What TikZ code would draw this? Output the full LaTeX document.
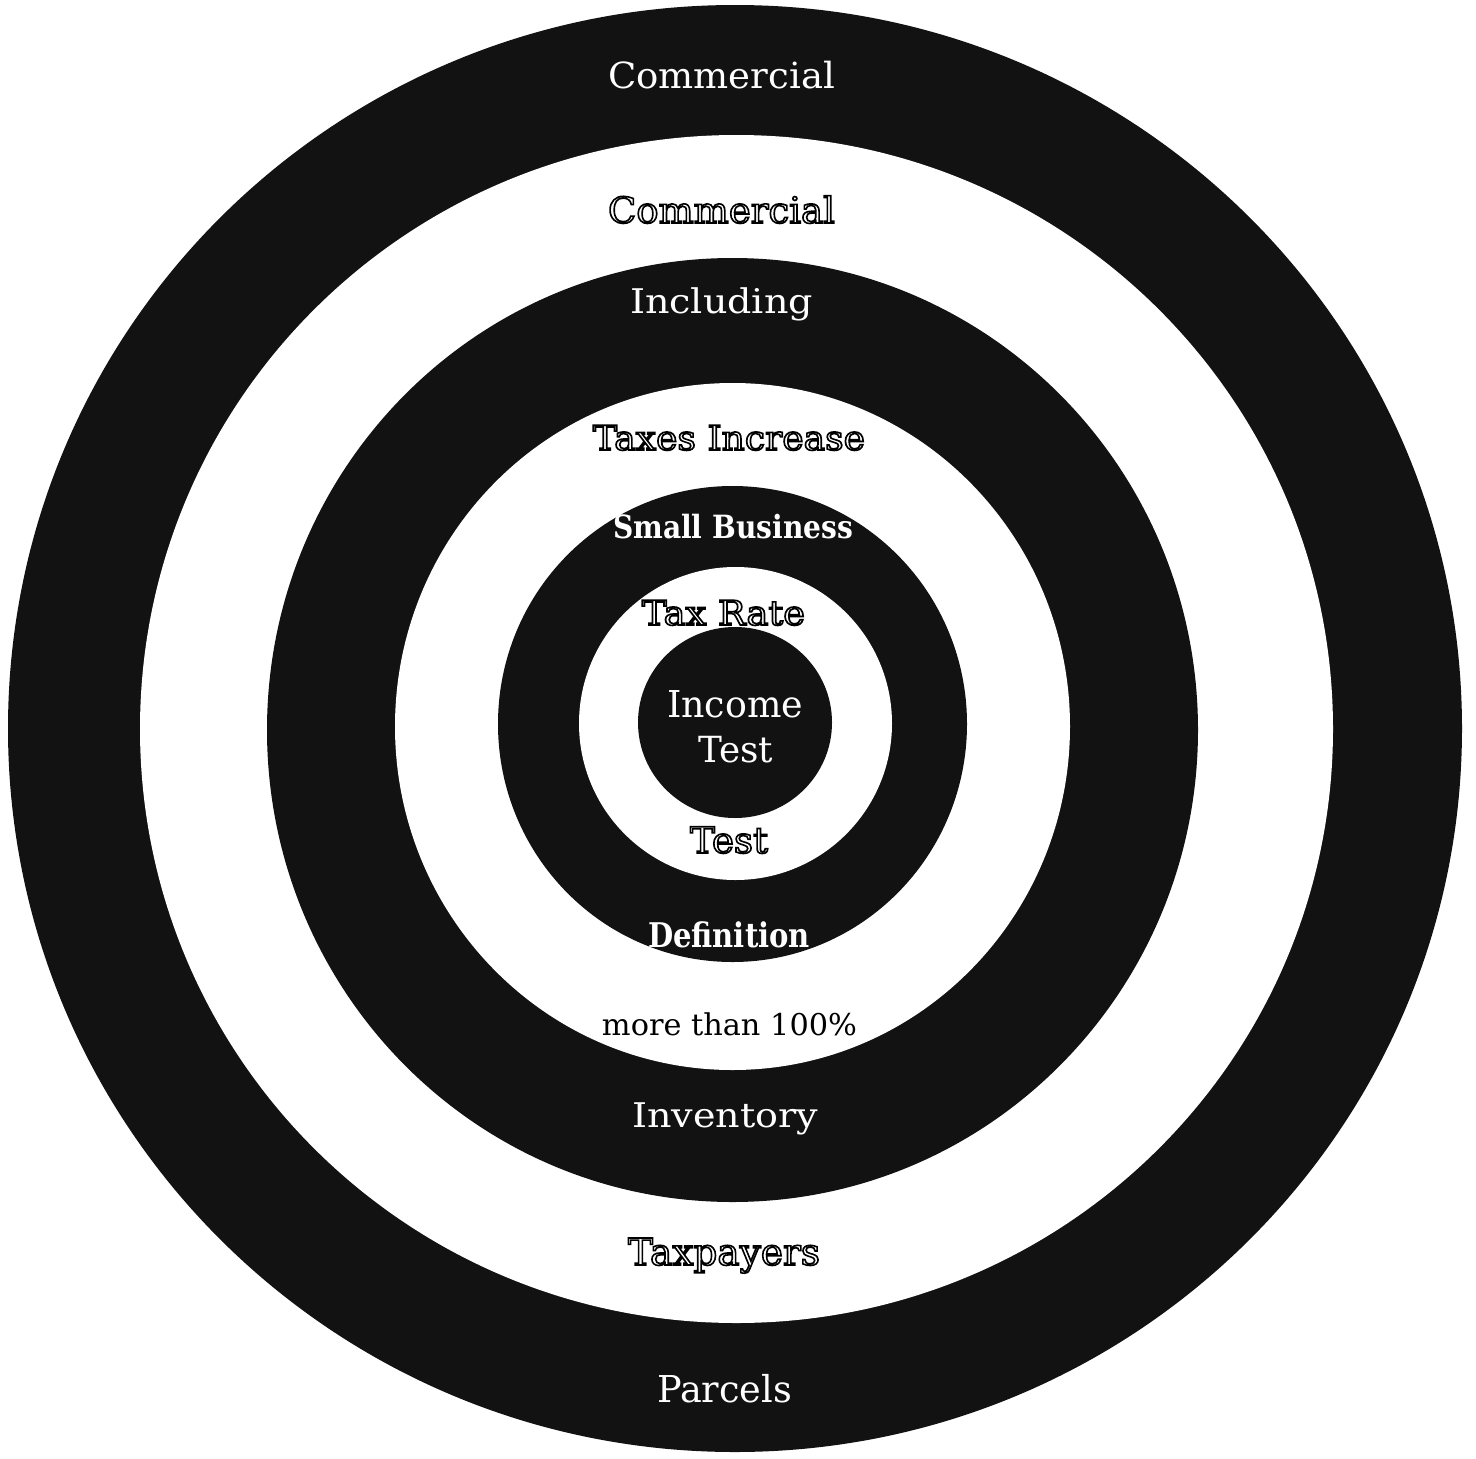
\documentclass[tikz,border=0pt]{standalone}
\usepackage{fontspec}
\setmainfont{DejaVu Serif}
\usepackage{graphicx}
\newcommand{\hollowtxt}[1]{\special{pdf:literal direct 1 1 1 rg 0 0 0 RG 2 Tr 1.6 w}#1\special{pdf:literal direct 0 Tr 0 g 0 G}}
\newcommand{\fitw}[2]{\resizebox{#1}{\height}{#2}}
\definecolor{ringdark}{gray}{0.07}
\tikzset{
  darkring/.style={fill=ringdark},
  lightring/.style={fill=white},
  lbl/.style={inner sep=0pt, anchor=base},
  ondark/.style={lbl, text=white},
  onlight/.style={lbl, text=black},
  fs/.style={font=\fontsize{#1}{#1}\selectfont}
}
\begin{document}
\begin{tikzpicture}[x=1pt,y=-1pt]
  \fill[white] (0,0) rectangle (1476,1459);
  \useasboundingbox (0,0) rectangle (1476,1459);
  % rings
  \fill[darkring]  (735,728.5)  ellipse [x radius=727pt,   y radius=723.5pt];
  \fill[lightring] (736.5,729)  ellipse [x radius=596.5pt, y radius=594pt];
  \fill[darkring]  (732.5,730)  ellipse [x radius=465.5pt, y radius=472pt];
  \fill[lightring] (732.5,726.5) ellipse [x radius=337.5pt, y radius=343.5pt];
  \fill[darkring]  (732.5,724)  ellipse [x radius=234.5pt, y radius=238pt];
  \fill[lightring] (735.5,723.5) ellipse [x radius=156.5pt, y radius=156.5pt];
  \fill[darkring]  (735,722.5)  ellipse [x radius=97pt,    y radius=95.5pt];
  % labels
  \node[ondark, fs=36]  (commercialA) at (721.5,88)  {\fitw{227pt}{Commercial}};
  \node[onlight, fs=36] (commercialB) at (721.5,223) {\fitw{227pt}{\hollowtxt{Commercial}}};
  \node[ondark, fs=34]  (including)   at (721.5,313) {\fitw{183pt}{Including}};
  \node[onlight, fs=34] (taxesinc)    at (729,450)   {\fitw{272pt}{\hollowtxt{Taxes Increase}}};
  \node[ondark, fs=32]  (smallbus)    at (733,538)   {\fitw{240pt}{\bfseries Small Business}};
  \node[onlight, fs=34] (taxrate)     at (723.5,625) {\fitw{163pt}{\hollowtxt{Tax Rate}}};
  \node[ondark, fs=37]  (income)      at (735,717)   {\fitw{136pt}{Income}};
  \node[ondark, fs=36]  (incometest)  at (735.5,762) {\fitw{75pt}{Test}};
  \node[onlight, fs=36] (testB)       at (729,853)   {\fitw{78pt}{\hollowtxt{Test}}};
  \node[ondark, fs=34]  (definition)  at (729,947)   {\fitw{162pt}{\bfseries Definition}};
  \node[onlight, fs=30] (morethan)    at (729.5,1035) {\fitw{255pt}{more than 100\%}};
  \node[ondark, fs=34]  (inventory)   at (725,1127)  {\fitw{186pt}{Inventory}};
  \node[onlight, fs=37] (taxpayers)   at (724,1265)  {\fitw{192pt}{\hollowtxt{Taxpayers}}};
  \node[ondark, fs=37]  (parcels)     at (724.5,1402) {\fitw{135pt}{Parcels}};
\end{tikzpicture}
\end{document}
